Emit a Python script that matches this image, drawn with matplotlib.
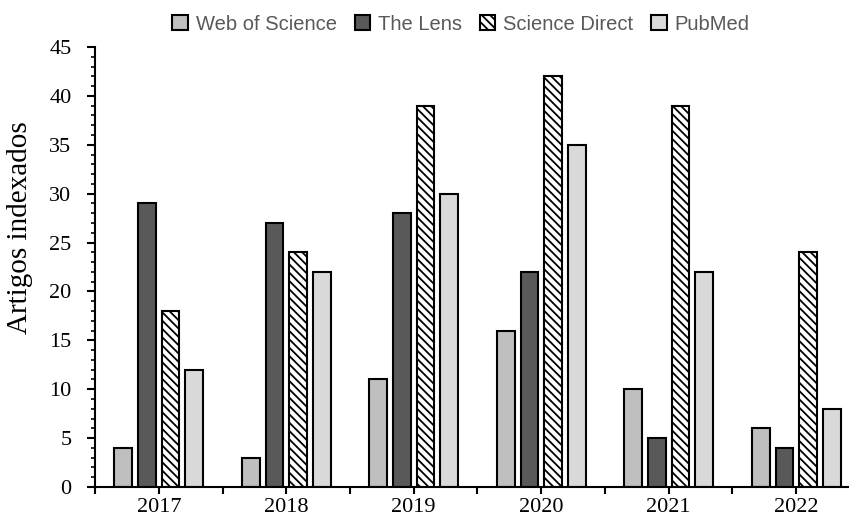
import numpy as np
import matplotlib
matplotlib.use('Agg')
import matplotlib.pyplot as plt
from matplotlib.ticker import MultipleLocator

# data
years = ['2017', '2018', '2019', '2020', '2021', '2022']
web_of_science = [4, 3, 11, 16, 10, 6]
the_lens = [29, 27, 28, 22, 5, 4]
science_direct = [18, 24, 39, 42, 39, 24]
pubmed = [12, 22, 30, 35, 22, 8]

series = ['Web of Science', 'The Lens', 'Science Direct', 'PubMed']
values = [web_of_science, the_lens, science_direct, pubmed]
colors = ['#bfbfbf', '#595959', 'white', '#d9d9d9']
hatches = [None, None, '\\\\\\\\', None]

plt.rcParams['hatch.linewidth'] = 1.3

fig = plt.figure(figsize=(8.49, 5.20), dpi=100)
# axes runs a bit past the right edge, like the cropped original
ax = fig.add_axes([95/849, 33/520, (860-95)/849, (487-47)/520])

x = np.arange(len(years))
w = 0.14
step = 0.185
for i, (name, vals) in enumerate(zip(series, values)):
    off = (i - 1.5) * step
    ax.bar(x + off, vals, width=w, color=colors[i], edgecolor='black',
           linewidth=1.5, hatch=hatches[i], label=name)

ax.set_xlim(-0.5, 5.5)
ax.set_ylim(0, 45)
ax.yaxis.set_major_locator(MultipleLocator(5))
ax.yaxis.set_minor_locator(MultipleLocator(1))
ax.set_xticks(np.arange(-0.5, 5.6, 0.5))
ax.set_xticklabels(['' if k % 2 == 0 else years[k // 2] for k in range(13)])
ax.tick_params(axis='x', length=5, width=1.5, pad=3)
ax.tick_params(axis='y', which='major', length=6, width=1.5, pad=11)
ax.tick_params(axis='y', which='minor', length=3, width=1.2)
for lab in ax.get_xticklabels():
    lab.set_fontfamily('Liberation Serif')
    lab.set_fontsize(16)
for lab in ax.get_yticklabels():
    lab.set_fontfamily('Liberation Serif')
    lab.set_fontsize(16)

ax.spines['top'].set_visible(False)
ax.spines['right'].set_visible(False)
ax.spines['left'].set_linewidth(1.5)
ax.spines['bottom'].set_linewidth(1.5)

ax.set_ylabel('Artigos indexados', fontfamily='Liberation Serif', fontsize=21)
ax.yaxis.set_label_coords(-0.081, 0.59)

leg = fig.legend(loc='center', bbox_to_anchor=(461/849, 1 - 24/520), ncol=4, frameon=False,
                 prop={'family': 'Liberation Sans', 'size': 14.5},
                 handlelength=0.75, handleheight=0.75, handletextpad=0.4,
                 columnspacing=0.9, labelcolor='#595959')

fig.savefig('out.png', dpi=100)
